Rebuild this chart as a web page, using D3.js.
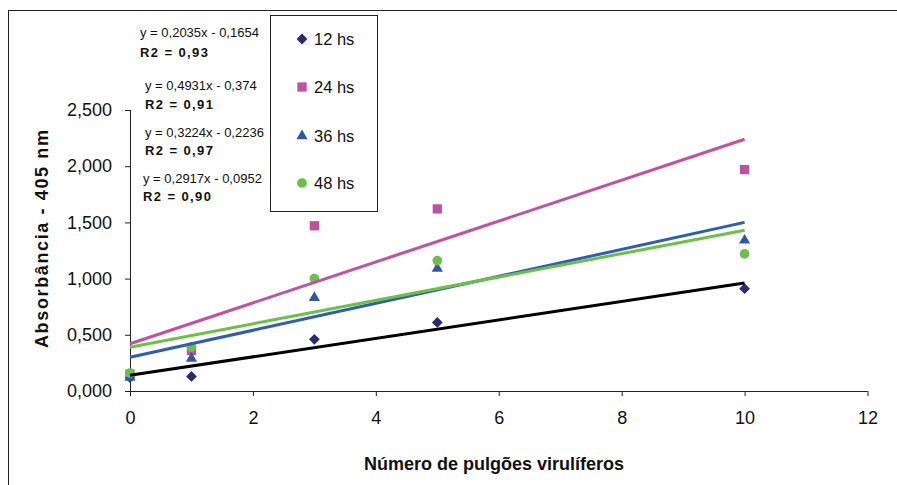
<!DOCTYPE html>
<html>
<head>
<meta charset="utf-8">
<script src="https://cdn.jsdelivr.net/npm/d3@7"></script>
<style>
  body { margin: 0; background: #fff; }
  svg { display: block; font-family: "Liberation Sans", Arial, sans-serif; }
</style>
</head>
<body>
<svg id="chart" width="897" height="485"></svg>
<script>
// values
const xValues = [0, 1, 3, 5, 10];
const seriesNames = ["12 hs", "24 hs", "36 hs", "48 hs"];
const values12 = [0.12, 0.13, 0.46, 0.61, 0.91];
const values24 = [0.15, 0.36, 1.47, 1.62, 1.97];
const values36 = [0.12, 0.29, 0.83, 1.09, 1.34];
const values48 = [0.16, 0.39, 1.00, 1.16, 1.22];
// trend lines drawn from x = 0 to x = 10
const trendStart = [0.14, 0.42, 0.30, 0.39];
const trendEnd = [0.96, 2.24, 1.50, 1.43];
const equations = ["y = 0,2035x - 0,1654", "y = 0,4931x - 0,374", "y = 0,3224x - 0,2236", "y = 0,2917x - 0,0952"];
const r2Labels = ["R2 = 0,93", "R2 = 0,91", "R2 = 0,97", "R2 = 0,90"];
const xTicks = [0, 2, 4, 6, 8, 10, 12];
const yTicks = [0, 0.5, 1, 1.5, 2, 2.5];

const svg = d3.select("#chart");
const margin = {left: 130, right: 30, top: 110, bottom: 94};
const width = 897, height = 485;

const markerColors = ["#2b2a78", "#bf50a2", "#2f57a6", "#6cc04a"];
const lineColors = ["#000000", "#c052a2", "#2f5db2", "#6cc04a"];
const symbols = [d3.symbolSquare, d3.symbolSquare, d3.symbolTriangle, d3.symbolCircle];
const symbolSizes = [58, 86, 54, 74];
const symbolRotate = [45, 0, 0, 0];

const x = d3.scaleLinear().domain([0, 12]).range([margin.left, 867.5]);
const y = d3.scaleLinear().domain([0, 2.5]).range([391, margin.top]);

// outer frame (right and bottom run off the picture)
svg.append("rect")
    .attr("x", 8.5).attr("y", 10.5)
    .attr("width", 950).attr("height", 550)
    .attr("fill", "none").attr("stroke", "#222").attr("stroke-width", 1);

// axes
const fmt = v => d3.format(".3f")(v).replace(".", ",");

const yAxis = svg.append("g")
    .attr("transform", `translate(${margin.left},0)`)
    .call(d3.axisLeft(y).tickValues(yTicks).tickFormat(fmt).tickSize(5).tickPadding(13));

const xAxis = svg.append("g")
    .attr("transform", `translate(0,${y(0)})`)
    .call(d3.axisBottom(x).tickValues(xTicks).tickSize(5).tickPadding(15));

[yAxis, xAxis].forEach(g => {
    g.select(".domain").attr("stroke", "#222");
    g.selectAll(".tick line").attr("stroke", "#222");
    g.selectAll(".tick text")
        .attr("fill", "#111")
        .style("font-size", "18px")
        .style("font-family", "'Liberation Sans', Arial, sans-serif");
});
// the axis domain has outer ticks; redraw plain lines
yAxis.select(".domain").attr("d", `M0.5,${y(2.5)}V${y(0)}`);
xAxis.select(".domain").attr("d", `M${x(0)},0.5H${x(12)}`);

// axis titles
svg.append("text")
    .attr("transform", "translate(48,239) rotate(-90)")
    .attr("text-anchor", "middle")
    .attr("font-weight", "bold")
    .attr("font-size", 18)
    .attr("textLength", 218)
    .attr("fill", "#111")
    .text("Absorbância - 405 nm");

svg.append("text")
    .attr("x", 494).attr("y", 470)
    .attr("text-anchor", "middle")
    .attr("font-weight", "bold")
    .attr("font-size", 18)
    .attr("fill", "#111")
    .text("Número de pulgões virulíferos");

// markers
const allValues = [values12, values24, values36, values48];

allValues.forEach((vals, i) => {
    const sym = d3.symbol().type(symbols[i]).size(symbolSizes[i]);
    svg.append("g").selectAll("path")
        .data(vals)
        .join("path")
        .attr("d", sym)
        .attr("transform", (d, j) => `translate(${x(xValues[j])},${y(d)}) rotate(${symbolRotate[i]})`)
        .attr("fill", markerColors[i]);
});

// trend lines
const line = d3.line().x(d => x(d[0])).y(d => y(d[1]));
trendStart.forEach((s, i) => {
    svg.append("path")
        .datum([[0, s], [10, trendEnd[i]]])
        .attr("d", line)
        .attr("fill", "none")
        .attr("stroke", lineColors[i])
        .attr("stroke-width", 3);
});

// equation labels
const eqX = [140, 145, 145, 143];
const eqY = [37, 90, 137, 183];
const r2Y = [57, 109, 155, 201];
equations.forEach((e, i) => {
    svg.append("text")
        .attr("x", eqX[i]).attr("y", eqY[i])
        .attr("font-size", 13)
        .attr("fill", "#111")
        .text(e);
    svg.append("text")
        .attr("x", eqX[i]).attr("y", r2Y[i])
        .attr("font-size", 13)
        .attr("font-weight", "bold")
        .attr("letter-spacing", 1.4)
        .attr("fill", "#111")
        .text(r2Labels[i]);
});

// legend
const legend = svg.append("g");
legend.append("rect")
    .attr("x", 270.5).attr("y", 15.5)
    .attr("width", 107).attr("height", 196)
    .attr("fill", "#fff").attr("stroke", "#222");

const legendY = [39, 87, 136, 183];
seriesNames.forEach((name, i) => {
    const sym = d3.symbol().type(symbols[i]).size(symbolSizes[i]);
    legend.append("path")
        .attr("d", sym)
        .attr("transform", `translate(302,${legendY[i]}) rotate(${symbolRotate[i]})`)
        .attr("fill", markerColors[i]);
    legend.append("text")
        .attr("x", 314).attr("y", legendY[i] + 6)
        .attr("font-size", 16.5)
        .attr("fill", "#111")
        .text(name);
});
</script>
</body>
</html>
